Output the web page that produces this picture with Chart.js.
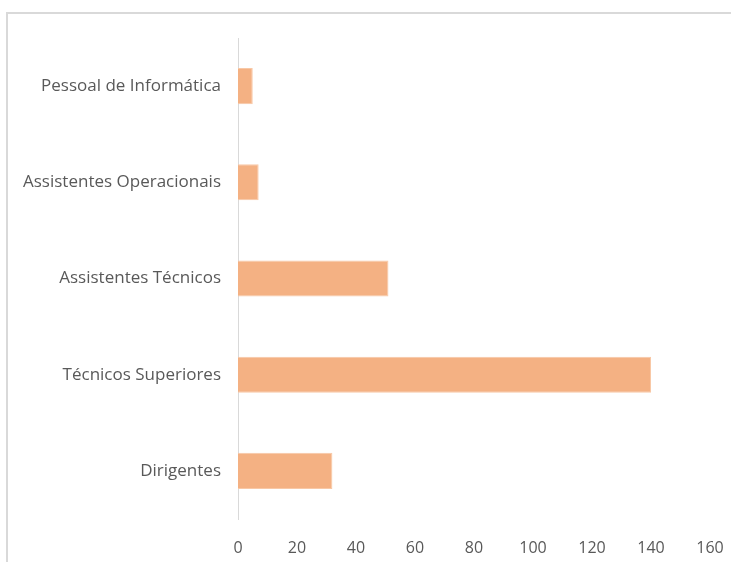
<!DOCTYPE html>
<html>
<head>
<meta charset="utf-8">
<script src="https://cdn.jsdelivr.net/npm/chart.js@4"></script>
<style>
  html, body { margin: 0; padding: 0; background: #fff; overflow: hidden; width: 731px; height: 562px; }
  #frame { position: absolute; left: 6px; top: 12px; width: 723px; height: 548px; border-top: 2px solid #d9d9d9; border-left: 2px solid #d9d9d9; }
  #wrap { position: absolute; left: 0; top: 0; width: 731px; height: 562px; }
</style>
</head>
<body>
<div id="frame"></div>
<div id="wrap"><canvas id="chart"></canvas></div>
<script>
// categories top to bottom
const categories = ["Pessoal de Informática", "Assistentes Operacionais", "Assistentes Técnicos", "Técnicos Superiores", "Dirigentes"];
const values = [5, 7, 51, 140, 32];
const xTicks = [0, 20, 40, 60, 80, 100, 120, 140, 160];

const textColor = "#595959";
const fontFamily = "'Open Sans', Lato, sans-serif";

const ctx = document.getElementById("chart").getContext("2d");
new Chart(ctx, {
    type: "bar",
    data: {
        labels: categories,
        datasets: [{
            data: values,
            backgroundColor: "#f4b183",
            borderColor: "#f8c8a6",
            borderWidth: 1,
            borderSkipped: "left",
            categoryPercentage: 1,
            barPercentage: 0.375,
        }],
    },
    options: {
        indexAxis: "y",
        responsive: true,
        maintainAspectRatio: false,
        animation: false,
        layout: { padding: { top: 38, right: 21, bottom: 0, left: 0 } },
        plugins: {
            legend: { display: false },
            tooltip: { enabled: false },
        },
        scales: {
            x: {
                min: 0,
                max: 160,
                afterBuildTicks: (scale) => { scale.ticks = xTicks.map((v) => ({ value: v })); },
                afterFit: (scale) => {
                    scale.height = 43;
                    scale.paddingLeft = 0;
                    scale.paddingRight = 0;
                },
                grid: { display: false, drawTicks: false },
                border: { display: false },
                ticks: { color: textColor, padding: 20, font: { family: fontFamily, size: 16 } },
            },
            y: {
                afterFit: (scale) => { scale.width = 238; },
                grid: { display: false, drawTicks: false },
                border: { display: true, color: "#d9d9d9", width: 1 },
                ticks: { color: textColor, padding: 17, font: { family: fontFamily, size: 17 } },
            },
        },
    },
});
</script>
</body>
</html>
